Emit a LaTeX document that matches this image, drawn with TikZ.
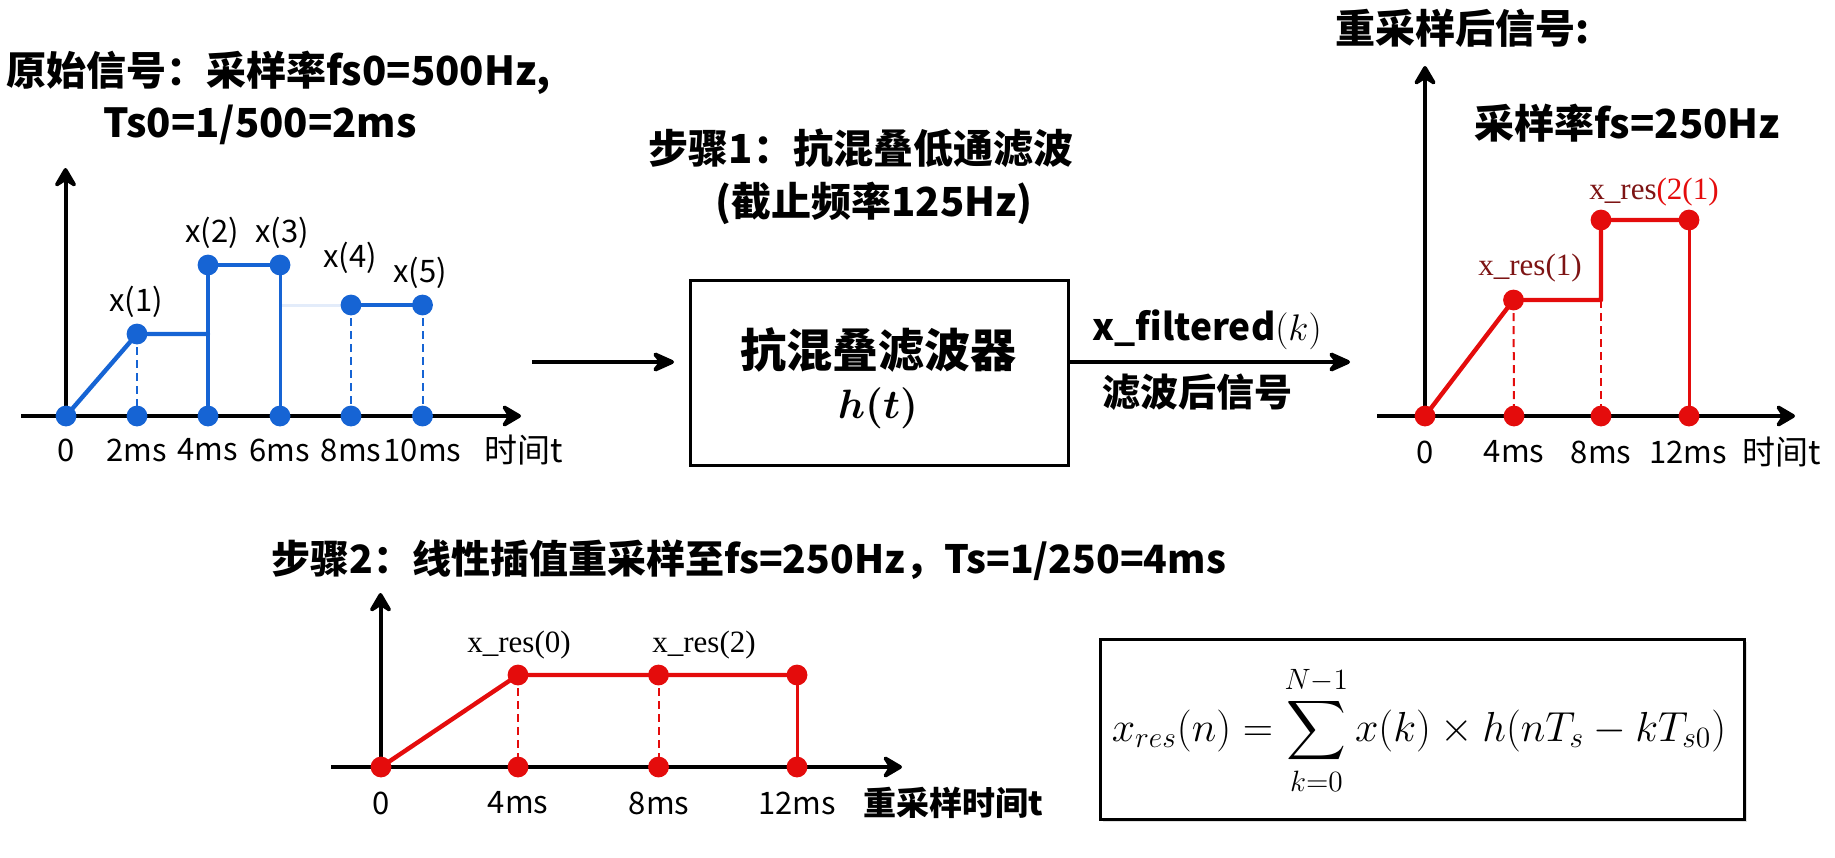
\RequirePackage{fix-cm}
\documentclass[tikz,border=0pt]{standalone}
\usepackage{amsmath}
\usepackage{bm}
\usepackage{fontspec}
\setmainfont{Noto Sans CJK SC}
\newfontfamily\tnr{Liberation Serif}
\usetikzlibrary{arrows.meta}
\definecolor{sigblue}{RGB}{22,100,212}
\definecolor{sigred}{RGB}{228,12,12}
\definecolor{lblred}{RGB}{125,20,20}
\begin{document}
\begin{tikzpicture}[x=0.5pt,y=-0.5pt,
  axisline/.style={line width=2pt,-{Stealth[length=12pt,width=14pt,inset=4.5pt,round]}},
  flowarrow/.style={line width=2pt,-{Stealth[length=14pt,width=12.5pt,inset=5pt,round]}},
  sig/.style={line width=2.2pt,line cap=round,line join=round},
  sigthin/.style={line width=1.5pt},
  dsh/.style={line width=1pt,dash pattern=on 4pt off 2.5pt},
  ttl/.style={font=\fontsize{20}{24}\selectfont\bfseries,inner sep=0pt},
  tick/.style={font=\fontsize{15.5}{18}\selectfont,inner sep=0pt},
  axname/.style={font=\fontsize{16.5}{18}\selectfont,inner sep=0pt,anchor=west},
  lab/.style={font=\fontsize{15.5}{18}\selectfont,inner sep=0pt},
  rlab/.style={font=\tnr\fontsize{15.5}{18}\selectfont,inner sep=0pt},
  boxnode/.style={draw,line width=1.5pt,inner sep=0pt},
]
\useasboundingbox (0,0) rectangle (1835,857);

% ---------- titles ----------
\node[ttl,anchor=west] (t1) at (6,73) {原始信号：采样率fs0=500Hz,};
\node[ttl] (t2) at (260,125) {Ts0=1/500=2ms};
\node[ttl] (s1a) at (861,148) {步骤1：抗混叠低通滤波};
\node[ttl] (s1b) at (874,203) {(截止频率125Hz)};
\node[ttl,anchor=west] (t3) at (1335,28) {重采样后信号:};
\node[ttl,anchor=west] (t4) at (1474,123) {采样率fs=250Hz};
\node[ttl,anchor=west,font=\fontsize{19.5}{24}\selectfont\bfseries] (s2) at (271,560) {步骤2：线性插值重采样至fs=250Hz，Ts=1/250=4ms};

% ---------- filter box ----------
\node[boxnode,minimum width=189pt,minimum height=92.5pt] (filt) at (879,372.5) {};
\node[font=\fontsize{23}{26}\selectfont\bfseries,inner sep=0pt] (filtA) at (878,350) {抗混叠滤波器};
\node[font=\fontsize{20.5}{24}\selectfont,inner sep=0pt] (filtB) at (878,408) {$\bm{h(t)}$};
\coordinate (inS) at (532,362);
\coordinate (inE) at (674,362);
\draw[flowarrow] (inS) -- (inE);
\coordinate (outE) at (1350,362);
\coordinate (outS) at (1068,362);
\draw[flowarrow] (outS) -- (outE);
\node[font=\fontsize{18.5}{22}\selectfont\bfseries,inner sep=0pt] (xf) at (1207,330) {x\_filtered$(k)$};
\node[font=\fontsize{19}{22}\selectfont\bfseries,inner sep=0pt] (xfl) at (1197,392) {滤波后信号};

% ---------- left plot (original) ----------
\coordinate (Lx0) at (21,416);
\coordinate (Lx1) at (521,416);
\coordinate (Ly0) at (65.5,416);
\coordinate (Ly1) at (65.5,168);
\draw[axisline] (Lx0) -- (Lx1);
\draw[axisline] (Ly0) -- (Ly1);
\coordinate (a0) at (66,416);
\coordinate (a1) at (137,334);
\coordinate (a2) at (208,265);
\coordinate (a3) at (280,265);
\coordinate (a4) at (351,305);
\coordinate (a5) at (422.5,305);
\coordinate (b1) at (137,416);
\coordinate (b2) at (208,416);
\coordinate (b3) at (280,416);
\coordinate (b4) at (351,416);
\coordinate (b5) at (422.5,416);
\coordinate (m1) at (208,334);
\coordinate (m3) at (280,305);
\draw[sigblue!12,line width=1.5pt] (m3) -- (a4);
\draw[sig,sigblue] (a0) -- (a1) -- (m1);
\draw[sig,sigblue] (b2) -- (a2) -- (a3);
\draw[sigthin,sigblue] (a3) -- (b3);
\draw[sig,sigblue] (a4) -- (a5);
\draw[dsh,sigblue] (a1) -- (b1);
\draw[dsh,sigblue] (a4) -- (b4);
\draw[dsh,sigblue] (a5) -- (b5);
\foreach \p in {a0,a1,a2,a3,a4,a5,b1,b2,b3,b4,b5}
  \fill[sigblue] (\p) circle[radius=5.2pt];
\node[lab] (lx1) at (136,302) {x(1)};
\node[lab] (lx2) at (212,233) {x(2)};
\node[lab] (lx3) at (282,233) {x(3)};
\node[lab] (lx4) at (350,258) {x(4)};
\node[lab] (lx5) at (420,273) {x(5)};
\node[tick] (lt0) at (66,450) {0};
\node[tick] (lt1) at (137,450) {2ms};
\node[tick] (lt2) at (208,450) {4ms};
\node[tick] (lt3) at (280,450) {6ms};
\node[tick] (lt4) at (351,450) {8ms};
\node[tick] (lt5) at (422.5,450) {10ms};
\node[axname] (lname) at (484,450) {时间t};

% ---------- right plot (resampled) ----------
\coordinate (Rx0) at (1377,416);
\coordinate (Rx1) at (1795,416);
\coordinate (Ry0) at (1425,416);
\coordinate (Ry1) at (1425,66);
\draw[axisline] (Rx0) -- (Rx1);
\draw[axisline] (Ry0) -- (Ry1);
\coordinate (r0) at (1425,416);
\coordinate (r1) at (1513.5,300);
\coordinate (rm) at (1601,300);
\coordinate (r2) at (1601,220);
\coordinate (r3) at (1689,220);
\coordinate (q1) at (1514,416);
\coordinate (q2) at (1601,416);
\coordinate (q3) at (1689,416);
\draw[sig,sigred] (r0) -- (r1) -- (rm) -- (r2) -- (r3);
\draw[sigthin,sigred] (r3) -- (q3);
\draw[dsh,sigred] (r1) -- (q1);
\draw[dsh,sigred] (rm) -- (q2);
\foreach \p in {r0,r1,r2,r3,q1,q2,q3}
  \fill[sigred] (\p) circle[radius=5.2pt];
\node[rlab,text=lblred] (rl1) at (1530,268) {x\_res(1)};
\node[rlab] (rl2) at (1654,192) {\textcolor{lblred}{x\_res}\textcolor{sigred}{(2(1)}};
\node[tick] (rt0) at (1425,452) {0};
\node[tick] (rt1) at (1514,452) {4ms};
\node[tick] (rt2) at (1601,452) {8ms};
\node[tick] (rt3) at (1688,452) {12ms};
\node[axname] (rname) at (1742,452) {时间t};

% ---------- bottom plot ----------
\coordinate (Bx0) at (331,767);
\coordinate (Bx1) at (902,767);
\coordinate (By0) at (380.5,767);
\coordinate (By1) at (380.5,593);
\draw[axisline] (Bx0) -- (Bx1);
\draw[axisline] (By0) -- (By1);
\coordinate (c0) at (381,767);
\coordinate (c1) at (518,675);
\coordinate (c2) at (658.5,675);
\coordinate (c3) at (797,675);
\coordinate (d1) at (518,767);
\coordinate (d2) at (658.5,767);
\coordinate (d3) at (797,767);
\draw[sig,sigred] (c0) -- (c1) -- (c2) -- (c3);
\draw[sigthin,sigred] (c3) -- (d3);
\draw[dsh,sigred] (c1) -- (d1);
\draw[dsh,sigred] (c2) -- (d2);
\foreach \p in {c0,c1,c2,c3,d1,d2,d3}
  \fill[sigred] (\p) circle[radius=5.2pt];
\node[rlab] (bl0) at (519,645) {x\_res(0)};
\node[rlab] (bl2) at (704,645) {x\_res(2)};
\node[tick] (bt0) at (381,803) {0};
\node[tick] (bt1) at (518,803) {4ms};
\node[tick] (bt2) at (659,803) {8ms};
\node[tick] (bt3) at (797,803) {12ms};
\node[axname,font=\fontsize{16.5}{18}\selectfont\bfseries] (bname) at (863.5,803) {重采样时间t};

% ---------- formula ----------
\fill[black!12] (1103,642) rectangle (1747,822);
\node[boxnode,fill=white,minimum width=322pt,minimum height=90pt] (fbox) at (1422,729) {};
\node[inner sep=0pt,font=\fontsize{21}{25}\selectfont] (formula) at (1419,730)
  {$\displaystyle x_{res}(n)=\sum_{k=0}^{N-1}x(k)\times h(nT_s-kT_{s0})$};
\end{tikzpicture}
\end{document}
